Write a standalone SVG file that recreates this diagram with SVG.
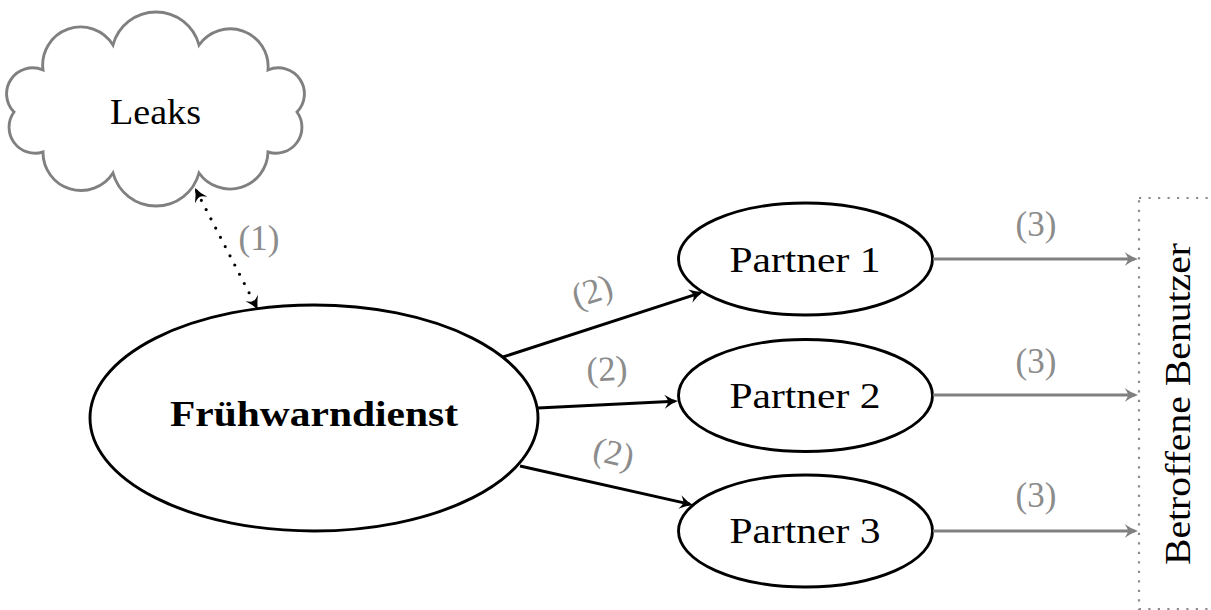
<svg xmlns="http://www.w3.org/2000/svg" width="1211" height="610" viewBox="0 0 1211 610">
  <style>
    text { font-family: "Liberation Serif", "DejaVu Serif", serif; font-size: 36px; fill: #000; }
    .lbl { fill: #8c8c8c; text-anchor: middle; font-size: 35px; }
    .node { fill: #fff; stroke: #000; stroke-width: 2.9; }
    .cloud { fill: #fff; stroke: #808080; stroke-width: 2.9; }
    .edge { fill: none; stroke: #000; stroke-width: 2.9; }
    .gedge { fill: none; stroke: #808080; stroke-width: 2.9; }
  </style>
  <defs>
    <marker id="ah" markerUnits="userSpaceOnUse" markerWidth="18" markerHeight="18" viewBox="-13 -9 18 18" refX="0" refY="0" orient="auto-start-reverse">
      <path d="M3.5,0 Q-3,-2 -10,-7 Q-6.5,-2.2 -6.5,0 Q-6.5,2.2 -10,7 Q-3,2 3.5,0Z" fill="#000"/>
    </marker>
    <marker id="ahg" markerUnits="userSpaceOnUse" markerWidth="18" markerHeight="18" viewBox="-13 -9 18 18" refX="0" refY="0" orient="auto">
      <path d="M3.5,0 Q-3,-2 -10,-7 Q-6.5,-2.2 -6.5,0 Q-6.5,2.2 -10,7 Q-3,2 3.5,0Z" fill="#808080"/>
    </marker>
  </defs>

  <g id="leaks">
    <path class="cloud" d="M43,70 A38,38 0 0 1 113,45 A44.5,44.5 0 0 1 199,45 A38,38 0 0 1 268,70 A26,26 0 0 1 297,112 A26,26 0 0 1 268,152 A38,38 0 0 1 199,173 A44.5,44.5 0 0 1 113,173 A38,38 0 0 1 43,152 A26,26 0 0 1 14,112 A26,26 0 0 1 43,70 Z"/>
    <text x="155.5" y="124" text-anchor="middle" font-size="38" textLength="91" lengthAdjust="spacingAndGlyphs">Leaks</text>
  </g>

  <g id="fruehwarndienst">
    <ellipse class="node" cx="314" cy="418" rx="224" ry="113"/>
    <text x="314" y="426" text-anchor="middle" font-weight="bold" textLength="288" lengthAdjust="spacingAndGlyphs">Frühwarndienst</text>
  </g>

  <g id="partner1">
    <ellipse class="node" cx="805.5" cy="259" rx="127" ry="56"/>
    <text x="805" y="272" text-anchor="middle" textLength="151" lengthAdjust="spacingAndGlyphs">Partner 1</text>
  </g>
  <g id="partner2">
    <ellipse class="node" cx="805.5" cy="395.5" rx="127" ry="56"/>
    <text x="805" y="408" text-anchor="middle" textLength="151" lengthAdjust="spacingAndGlyphs">Partner 2</text>
  </g>
  <g id="partner3">
    <ellipse class="node" cx="805.5" cy="531" rx="127" ry="56"/>
    <text x="805" y="543" text-anchor="middle" textLength="151" lengthAdjust="spacingAndGlyphs">Partner 3</text>
  </g>

  <g id="betroffene">
    <rect x="1139" y="198" width="90" height="411" fill="none" stroke="#8c8c8c" stroke-width="2.2" stroke-dasharray="2.2 7.3"/>
    <text transform="translate(1190,404) rotate(-90)" x="0" y="0" text-anchor="middle" textLength="322" lengthAdjust="spacingAndGlyphs">Betroffene Benutzer</text>
  </g>

  <g id="connectors">
    <line x1="196.6" y1="191.1" x2="256.4" y2="306.9" stroke="#000" stroke-width="3.2" stroke-linecap="round" stroke-dasharray="0 10.4" marker-start="url(#ah)" marker-end="url(#ah)"/>
    <line class="edge" x1="503" y1="357" x2="699.7" y2="293.1" marker-end="url(#ah)"/>
    <line class="edge" x1="538" y1="408" x2="674.5" y2="401.2" marker-end="url(#ah)"/>
    <line class="edge" x1="520" y1="466" x2="689.6" y2="504.2" marker-end="url(#ah)"/>
    <line class="gedge" x1="933" y1="259" x2="1134.5" y2="259" marker-end="url(#ahg)"/>
    <line class="gedge" x1="933" y1="395" x2="1134.5" y2="395" marker-end="url(#ahg)"/>
    <line class="gedge" x1="933" y1="531" x2="1134.5" y2="531" marker-end="url(#ahg)"/>

    <text class="lbl" x="259" y="250">(1)</text>
    <text class="lbl" transform="translate(593,294) rotate(-17.9)" x="0" y="8.5">(2)</text>
    <text class="lbl" transform="translate(607,372) rotate(-2.9)" x="0" y="8.5">(2)</text>
    <text class="lbl" transform="translate(613,456) rotate(12.7)" x="0" y="8.5">(2)</text>
    <text class="lbl" x="1036" y="236">(3)</text>
    <text class="lbl" x="1036" y="373">(3)</text>
    <text class="lbl" x="1036" y="507">(3)</text>
  </g>
</svg>
